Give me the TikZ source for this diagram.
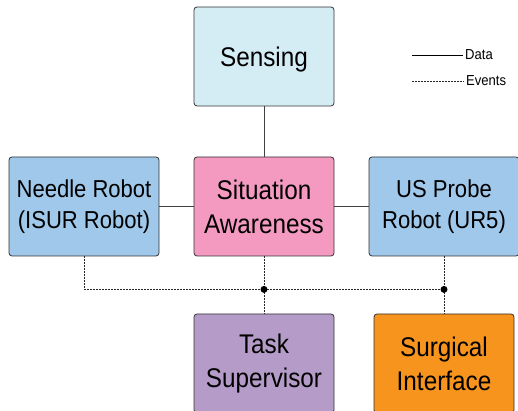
\documentclass[tikz,border=0pt]{standalone}
\usepackage{fontspec}
\setmainfont{Liberation Sans}
\newfontfamily\boxfont{Liberation Sans}[FakeStretch=0.9]
\usetikzlibrary{positioning}

\definecolor{senseblue}{HTML}{D4EDF4}
\definecolor{robotblue}{HTML}{9FC8EA}
\definecolor{sapink}{HTML}{F49AC1}
\definecolor{taskpurple}{HTML}{B59CC8}
\definecolor{surgorange}{HTML}{F7941E}

\begin{document}
\begin{tikzpicture}[x=1pt,y=1pt,node distance=180pt,
  box/.style={draw=black!80,line width=0.8pt,rounded corners=3pt,minimum height=99pt,
    minimum width=140pt,align=center,inner sep=2pt,font=\boxfont\fontsize{27}{34}\selectfont},
  sense node/.style={box,fill=senseblue,text depth=0pt},
  robot node/.style={box,fill=robotblue,minimum width=150pt,font=\boxfont\fontsize{24.5}{31}\selectfont},
  sa node/.style={box,fill=sapink},
  task node/.style={box,fill=taskpurple},
  surg node/.style={box,fill=surgorange},
  data line/.style={draw=black!75,line width=0.9pt},
  event line/.style={draw=black!85,line width=0.8pt,dash pattern=on 2pt off 1pt},
  legend text/.style={anchor=west,inner sep=2pt,font=\boxfont\fontsize{14.5}{16}\selectfont}]

  \useasboundingbox (0,0) rectangle (518,411);

  \node[sa node]     (sa) at (264,204.5) {Situation\\Awareness};
  \node[robot node]  (needle) [left of=sa] {Needle Robot\\(ISUR Robot)};
  \node[robot node]  (us) [right of=sa] {US Probe\\Robot (UR5)};
  \node[sense node]  (sense) [above of=sa,node distance=150pt] {Sensing};
  \node[task node]   (task) [below of=sa,node distance=157pt] {Task\\Supervisor};
  \node[surg node]   (surg) [right of=task] {Surgical\\Interface};

  % data links
  \path[data line]
    (sense)  edge (sa)
    (needle) edge (sa)
    (sa)     edge (us);

  % event bus
  \coordinate (j1) at ([yshift=-33pt]sa.south);
  \coordinate (j2) at (us.south |- j1);
  \draw[event line] (needle.south) |- (j2);
  \draw[event line] (sa.south) -- (task.north);
  \draw[event line] (us.south) -- (surg.north);
  \fill (j1) circle (3.5pt);
  \fill (j2) circle (3.5pt);

  % legend
  \coordinate (datastart) at (412,356);
  \node[legend text] (data) at (463,356) {Data};
  \draw[line width=0.7pt] (datastart) -- (data.west);
  \coordinate (evstart) at (412,330);
  \node[legend text] (ev) at (464,330) {Events};
  \draw[event line,line width=0.6pt] (evstart) -- (ev.west);
\end{tikzpicture}
\end{document}
